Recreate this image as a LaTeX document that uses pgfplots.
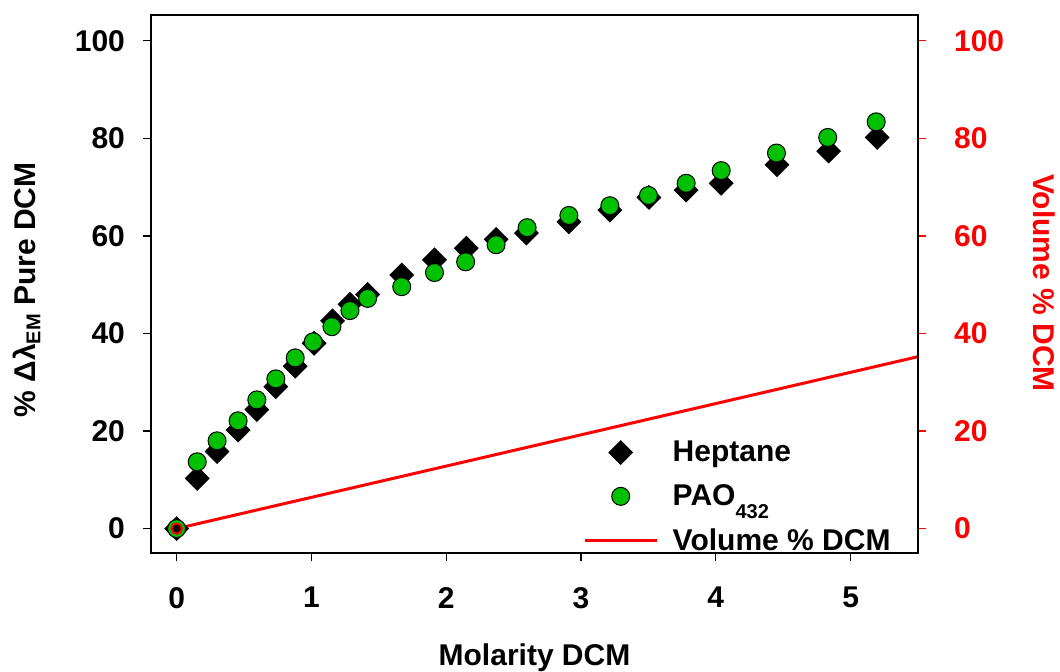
\documentclass[border=0pt]{standalone}
\usepackage{pgfplots}
\pgfplotsset{compat=1.18}
\usepackage{fontspec}
\setmainfont{Liberation Sans}
\definecolor{pgreen}{RGB}{0,192,0}
\pgfplotsset{
  marklegend/.style={legend image code/.code={\path[draw=none,fill=none] (0pt,0pt) -- (41pt,0pt); \draw[##1] plot coordinates {(18pt,0pt)};}},
  linelegend/.style={legend image code/.code={\path[draw=none,fill=none] (0pt,0pt) -- (41pt,0pt); \draw[red, line width=1.5pt] (0pt,0pt) -- (36pt,0pt);}},
}
\pgfplotstableread{
x y
0 0
0.153 10.3
0.30 15.8
0.456 20.2
0.595 24.4
0.736 29.1
0.88 33.3
1.02 38.0
1.157 42.6
1.286 46.0
1.417 48.0
1.67 52.0
1.913 55.1
2.149 57.5
2.37 59.3
2.595 60.6
2.91 62.9
3.214 65.3
3.504 67.9
3.78 69.4
4.04 70.8
4.454 74.6
4.837 77.4
5.197 80.2
}\heptane
\pgfplotstableread{
x y
0 0
0.153 13.7
0.30 18.0
0.456 22.1
0.595 26.4
0.736 30.7
0.88 35.0
1.013 38.3
1.152 41.4
1.286 44.7
1.417 47.2
1.67 49.6
1.913 52.5
2.144 54.7
2.37 58.2
2.60 61.7
2.91 64.2
3.214 66.2
3.50 68.3
3.78 70.8
4.04 73.4
4.45 77.0
4.83 80.2
5.19 83.4
}\pao
\begin{document}
\begin{tikzpicture}
\path[use as bounding box] (-75.5pt,-59pt) rectangle (454.5pt,276.5pt);
\pgfplotsset{
  common/.style={
    at={(0,0)}, anchor=south west, scale only axis,
    width=383.5pt, height=269pt,
    xmin=-0.19, xmax=5.5, ymin=-5, ymax=105.3,
    tick align=outside, major tick length=4pt,
    /pgf/number format/assume math mode=true,
    tick label style={font=\fontsize{15}{18}\selectfont\bfseries},
    label style={font=\fontsize{15}{18}\selectfont\bfseries},
  }
}
\begin{axis}[common,
  xtick={0,1,2,3,4,5}, ytick={0,20,40,60,80,100},
  tick pos=left,
  axis line style={line width=1.2pt},
  every tick/.style={black, line width=0.6pt},
  yticklabel style={xshift=-5.5pt},
  xticklabel style={yshift=-9.5pt},
  xlabel={Molarity DCM},
  ylabel={\% Δλ\raisebox{-2.5pt}{\fontsize{10}{11}\selectfont EM} Pure DCM},
  xlabel style={at={(axis description cs:0.5,-0.21)}, anchor=base},
  ylabel style={at={(axis description cs:-0.162,0.489)}, anchor=center},
  legend style={at={(axis description cs:0.563,-0.012)}, anchor=south west,
    draw=none, fill=none, inner sep=0pt, row sep=4pt,
    nodes={font=\fontsize{15}{18}\selectfont\bfseries, inner sep=3pt}},
  legend cell align=left,
]
\addplot[only marks, mark=square*, mark size=4.2pt, mark options={rotate=45, fill=black, draw=black}, marklegend]
  table[x=x,y=y]{\heptane};
\addlegendentry{Heptane}
\addplot[only marks, mark=*, mark size=4.5pt, mark options={fill=pgreen, draw=black, line width=0.5pt}, marklegend]
  table[x=x,y=y]{\pao};
\addlegendentry{PAO\raisebox{-6.5pt}{\fontsize{10}{11}\selectfont 432}}
\addplot[red, line width=1.5pt, mark=*, mark indices={1}, mark size=2.6pt,
  mark options={fill=black, draw=red, line width=1pt}, linelegend]
  coordinates {(0,0) (5.5,35.25)};
\addlegendentry{Volume \% DCM}
\end{axis}
\begin{axis}[common,
  axis x line=none, axis y line*=right,
  ytick={0,20,40,60,80,100},
  y axis line style={black, line width=1.2pt},
  every tick/.style={red, line width=0.6pt},
  yticklabel style={red, xshift=10.5pt},
  ylabel={Volume \% DCM},
  ylabel style={red, at={(axis description cs:1.164,0.502)}, anchor=center, rotate=180},
]
\addplot[draw=none] coordinates {(0,0)};
\end{axis}
\end{tikzpicture}
\end{document}
